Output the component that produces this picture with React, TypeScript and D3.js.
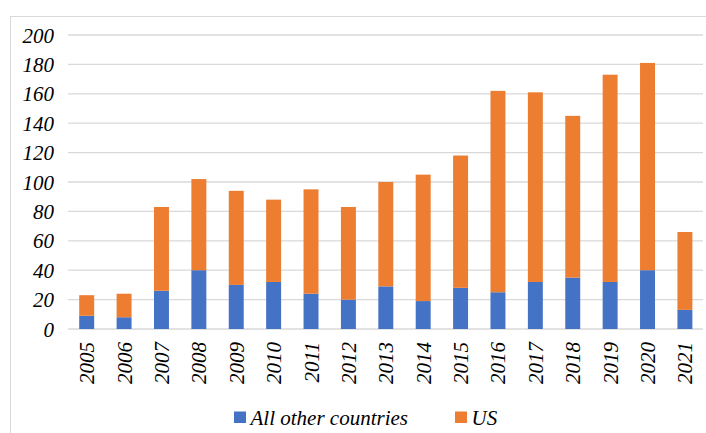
import React from 'react';
import * as d3 from 'd3';

const years = ["2005", "2006", "2007", "2008", "2009", "2010", "2011", "2012", "2013", "2014", "2015", "2016", "2017", "2018", "2019", "2020", "2021"];
const others = [9, 8, 26, 40, 30, 32, 24, 20, 29, 19, 28, 25, 32, 35, 32, 40, 13];
const us = [14, 16, 57, 62, 64, 56, 71, 63, 71, 86, 90, 137, 129, 110, 141, 141, 53];
const yTicks = [0, 20, 40, 60, 80, 100, 120, 140, 160, 180, 200];
const seriesNames = ["All other countries", "US"];
const colors = ["#4472C4", "#ED7D31"];

const W = 706, H = 433;
const font = 'Liberation Serif';
// the serif face only gets picked at small sizes here, so draw at 18px and scale up to ~21px
const fs = 18;
const k = 21 / 18;

export default function App() {
  const x = d3.scaleBand().domain(years).range([68, 703.6]).paddingInner(0.6).paddingOuter(0.3);
  const y = d3.scaleLinear().domain([0, 200]).range([329, 35]);

  const rows = years.map((yr, i) => ({ year: yr, others: others[i], us: us[i] }));
  const stack = d3.stack<any>().keys(['others', 'us'])(rows);
  const legendX = [234, 455];

  return (
    <svg width={W} height={H}
         style={{ position: 'absolute', left: 0, top: 0, background: 'white' }}>
      {/* chart frame */}
      <rect x={10.5} y={16.5} width={800} height={600} fill="white" stroke="#D9D9D9" />

      {yTicks.map(t => (
        <line key={'g' + t} x1={68} x2={703} y1={y(t)} y2={y(t)} stroke="#D9D9D9" strokeWidth={1.3} />
      ))}
      {yTicks.map(t => (
        <text key={'t' + t} textAnchor="end"
              transform={'translate(54,' + (y(t) + 7.5) + ') scale(' + k + ')'}
              fontFamily={font} fontStyle="italic" fontSize={fs} fill="#000">{t}</text>
      ))}

      {stack.map((s, i) => (
        <g key={s.key} fill={colors[i]}>
          {s.map(d => (
            <rect key={d.data.year} x={x(d.data.year)} width={x.bandwidth()}
                  y={y(d[1])} height={y(d[0]) - y(d[1])} />
          ))}
        </g>
      ))}

      {years.map(yr => (
        <text key={'x' + yr} textAnchor="end"
              transform={'translate(' + (x(yr)! + x.bandwidth() / 2 + 7.5) + ',342) rotate(-90) scale(' + k + ')'}
              fontFamily={font} fontStyle="italic" fontSize={fs} fill="#000">{yr}</text>
      ))}

      {seriesNames.map((n, i) => (
        <g key={n} transform={'translate(' + legendX[i] + ',411.5)'}>
          <rect width={12} height={11.5} fill={colors[i]} />
          <text transform={'translate(16.5,13.5) scale(' + k + ')'}
                fontFamily={font} fontStyle="italic" fontSize={fs} fill="#000">{n}</text>
        </g>
      ))}
    </svg>
  );
}
